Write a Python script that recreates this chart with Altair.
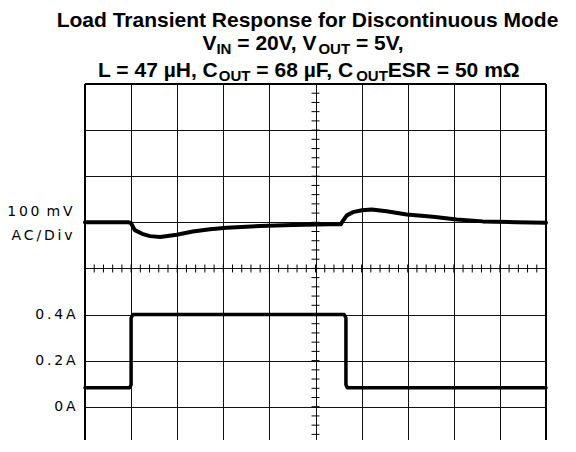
import altair as alt
import pandas as pd

# ---- data (x in time divisions, 0..10) ----
volt_t = [0.0, 0.95, 1.0, 1.08, 1.24, 1.41, 1.63, 1.99, 2.34, 2.71, 3.07, 3.80, 4.51,
          5.31, 5.55, 5.60, 5.68, 5.81, 6.01, 6.22, 6.54, 6.98, 7.55, 8.06, 8.63, 9.36, 10.0]
volt_mv = [0, 0, -2, -17, -25, -30, -32, -27, -20, -15, -12, -8, -6,
           -4, -4, 4, 15, 22, 26, 28, 24, 17, 12, 6, 2, 0, -1]  # mV, AC coupled

cur_t = [0.0, 0.97, 1.0, 1.0, 1.04, 5.62, 5.66, 5.66, 5.69, 10.0]
cur_a = [0.082, 0.082, 0.095, 0.385, 0.4, 0.4, 0.385, 0.095, 0.082, 0.082]  # A

grid_x = list(range(0, 11))
grid_y = list(range(1, 9))
ylab_vals = [1, 2, 3, 5]
TS = "\u2009"
ylab_text = ["0" + TS + "A",
             "0" + TS + "." + TS + "2" + TS + "A",
             "0" + TS + "." + TS + "4" + TS + "A",
             ["1" + TS + "0" + TS + "0\u2002m" + TS + "V", "A" + TS + "C" + TS + "/" + TS + "D" + TS + "i" + TS + "v"]]

title1 = "Load Transient Response for Discontinuous Mode"
title2 = [("V", 0), ("IN", 1), (" = 20V, V", 0), ("OUT", 1), (" = 5V,", 0)]
title3 = [("L = 47 µH, C", 0), ("OUT", 1), (" = 68 µF, C", 0), ("OUT", 1), ("ESR = 50 mΩ", 0)]

# ---- layout ----
W, H = 461, 356
DIV_PX = 46.1
y_lo = 8 - H / DIV_PX
OX, OY = 85, 84  # plot origin on page

MAIN, SUB = 21, 15
FONT = "Liberation Sans, Arial, Helvetica, sans-serif"
AW = {' ': 278, ',': 278, '=': 584, 'V': 667, 'I': 278, 'N': 722, 'O': 778, 'U': 722,
      'T': 611, 'L': 611, 'H': 722, 'C': 722, 'F': 611, 'E': 667, 'S': 667, 'R': 722,
      'm': 889, 'µ': 611, 'Ω': 768}
for d in "0123456789":
    AW[d] = 556


def tw(s, size):
    return sum(AW.get(c, 600) for c in s) * size / 1000.0


volt_df = pd.DataFrame({"t": volt_t, "mv": volt_mv, "i": list(range(len(volt_t)))})
cur_df = pd.DataFrame({"t": cur_t, "a": cur_a, "i": list(range(len(cur_t)))})
one = pd.DataFrame({"d": [0]})

xs = alt.Scale(domain=[0, 10], nice=False, zero=False)
ys = alt.Scale(domain=[y_lo, 8], nice=False, zero=False)


def js(v):
    if isinstance(v, list):
        return "[" + ",".join("'" + s + "'" for s in v) + "]"
    return "'" + v + "'"


label_expr = ""
for v, t in zip(ylab_vals, ylab_text):
    label_expr += f"datum.value == {v} ? {js(t)} : "
label_expr += "''"

AX = alt.Axis(values=grid_x, grid=True, labels=False, ticks=False, domain=False, title=None,
              gridColor="#111", gridWidth=1, gridOpacity=1)
AY = alt.Axis(values=grid_y, grid=True, ticks=False, domain=False, title=None,
              gridColor="#111", gridWidth=1, gridOpacity=1, labelExpr=label_expr,
              labelFont="DejaVu Sans", labelFontSize=14, labelColor="black",
              labelPadding={"condition": {"test": "datum.value == 5", "value": 13}, "value": 10},
              labelOffset={"condition": {"test": "datum.value == 5", "value": -11}, "value": 0},
              labelLineHeight=24, labelOverlap=False, labelFlush=False, labelBound=False)

volt = alt.Chart(volt_df).transform_calculate(
    v="5 + datum.mv / 100"
).mark_line(color="black", strokeWidth=4, strokeCap="round", strokeJoin="round").encode(
    x=alt.X("t:Q", scale=xs, axis=AX),
    y=alt.Y("v:Q", scale=ys, axis=AY),
    order="i:Q",
)

cur = alt.Chart(cur_df).transform_calculate(
    v="1 + datum.a / 0.2"
).mark_line(color="black", strokeWidth=3.5, strokeCap="round", strokeJoin="round").encode(
    x=alt.X("t:Q", scale=xs, axis=AX),
    y=alt.Y("v:Q", scale=ys, axis=AY),
    order="i:Q",
)

# crosshair minor ticks
xt = pd.DataFrame({"t": [k / 5 for k in range(1, 50)], "v": [4] * 49})
yt_vals = [k / 5 for k in range(2, 40)]
yt = pd.DataFrame({"t": [5] * len(yt_vals), "v": yt_vals})
xticks = alt.Chart(xt).mark_tick(orient="vertical", size=8, thickness=1, color="black", opacity=1).encode(
    x=alt.X("t:Q", scale=xs, axis=AX), y=alt.Y("v:Q", scale=ys, axis=AY))
yticks = alt.Chart(yt).mark_tick(orient="horizontal", size=8, thickness=1, color="black", opacity=1).encode(
    x=alt.X("t:Q", scale=xs, axis=AX), y=alt.Y("v:Q", scale=ys, axis=AY))

# frame (bottom is cut off in the original)
frame_l = alt.Chart(one).mark_rule(color="black", strokeWidth=2).encode(
    x=alt.value(0), y=alt.value(0), y2=alt.value(H))
frame_r = alt.Chart(one).mark_rule(color="black", strokeWidth=2).encode(
    x=alt.value(W), y=alt.value(0), y2=alt.value(H))
frame_t = alt.Chart(one).mark_rule(color="black", strokeWidth=2).encode(
    x=alt.value(0), x2=alt.value(W), y=alt.value(0))

layers = [volt, xticks, yticks, frame_l, frame_r, frame_t, cur]


def text_layer(s, x, y, size, align="left"):
    return alt.Chart(one).mark_text(align=align, baseline="alphabetic", font=FONT,
                                    fontSize=size, fontWeight="bold", color="black").encode(
        x=alt.value(x), y=alt.value(y), text=alt.value(s))


# title line 1 (centered)
layers.append(text_layer(title1, 307.5 - OX, 26.5 - OY, MAIN, align="center"))

for pieces, cx, by in [(title2, 304, 50), (title3, 308.5, 77)]:
    total = sum(tw(s, SUB if sub else MAIN) for s, sub in pieces)
    x = cx - total / 2 - OX
    for s, sub in pieces:
        size = SUB if sub else MAIN
        lead = len(s) - len(s.lstrip(" "))
        body = s.strip(" ")
        layers.append(text_layer(body, x + tw(" " * lead, size), by - OY + (4 if sub else 0), size))
        x += tw(s, size)

chart = alt.layer(*layers).properties(
    width=W, height=H,
    autosize=alt.AutoSizeParams(type="none"),
    padding={"left": OX - 8, "top": OY - 8, "right": 576 - 8 - OX - W, "bottom": 0},
    background="white",
).configure_view(stroke=None)

chart.save("out.html", embed_options={"renderer": "svg", "actions": False})
